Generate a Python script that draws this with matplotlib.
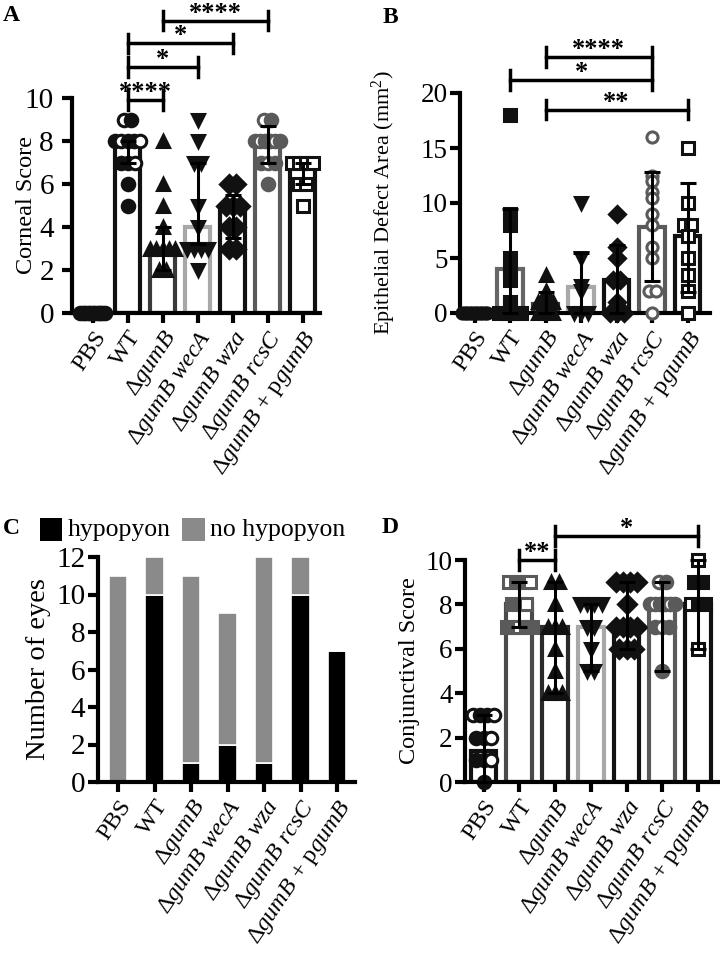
import matplotlib
matplotlib.use('Agg')
import matplotlib.pyplot as plt
from matplotlib.patches import Rectangle
import numpy as np

plt.rcParams['font.family'] = ['Liberation Serif', 'DejaVu Serif']
plt.rcParams['mathtext.fontset'] = 'custom'
plt.rcParams['mathtext.rm'] = 'Liberation Serif'
plt.rcParams['mathtext.it'] = 'Liberation Serif:italic'
plt.rcParams['mathtext.bf'] = 'Liberation Serif:bold'

# ---------------- data ----------------
groups = ['PBS', 'WT', 'ΔgumB', 'ΔgumB wecA', 'ΔgumB wza', 'ΔgumB rcsC', 'ΔgumB + pgumB']
tick_labels = ['PBS', 'WT', 'Δ$\\mathit{gumB}$',
               'Δ$\\mathit{gumB}$ $\\mathit{wecA}$',
               'Δ$\\mathit{gumB}$ $\\mathit{wza}$',
               'Δ$\\mathit{gumB}$ $\\mathit{rcsC}$',
               'Δ$\\mathit{gumB}$ + p$\\mathit{gumB}$']

# Panel A: corneal score
corneal_pbs = [0] * 11
corneal_wt = [9, 9, 8, 8, 8, 8, 8, 7, 7, 7, 6, 5]
corneal_gumB = [8, 6, 5, 4, 3, 3, 3, 3, 3, 2, 2]
corneal_wecA = [9, 8, 7, 7, 5, 4, 3, 3, 3, 3, 2]
corneal_wza = [6, 6, 5, 5, 5, 4, 4, 3, 3]
corneal_rcsC = [9, 9, 8, 8, 8, 8, 8, 8, 7, 7, 7, 6]
corneal_pgumB = [7, 7, 7, 7, 6, 6, 5]
corneal_bar = [0, 8, 3, 4, 5, 8, 7]
corneal_err_lo = [0, 7, 2, 3.2, 3.5, 7, 6]
corneal_err_hi = [0, 8, 4, 7, 5.5, 8.7, 7]
corneal_sig = [(1, 2, 9.9, '****'), (1, 3, 11.45, '*'), (1, 4, 12.55, '*'), (2, 5, 13.6, '****')]

# Panel B: epithelial defect area
epi_pbs = [0] * 11
epi_wt = [18, 9, 8, 5, 4, 3, 1, 0.5, 0, 0, 0, 0]
epi_gumB = [3.5, 2, 1.5, 1, 1, 1, 0.5, 0.5, 0, 0, 0]
epi_wecA = [10, 5, 2.5, 2, 0, 0, 0]
epi_wza = [9, 6, 5, 3, 3, 1, 0, 0, 0]
epi_rcsC = [16, 12.5, 12, 11, 10.5, 9, 8, 6, 5, 2, 2, 0]
epi_pgumB = [15, 10, 8, 8, 7, 5, 3.5, 2, 0]
epi_bar = [0, 4, 0.8, 2.4, 3, 7.8, 7]
epi_err_lo = [0, 0, 0, 0, 0, 2.9, 1.9]
epi_err_hi = [0, 9.5, 1.9, 5.5, 6.2, 12.8, 11.8]
epi_sig = [(2, 5, 23.3, '****'), (1, 5, 21.2, '*'), (2, 6, 18.5, '**')]

# Panel C: hypopyon counts
hypopyon = [0, 10, 1, 2, 1, 10, 7]
no_hypopyon = [11, 2, 10, 7, 11, 2, 0]

# Panel D: conjunctival score
conj_pbs = [3, 3, 3, 3, 2, 2, 2, 1, 1, 1, 0]
conj_wt = [9, 9, 9, 9, 8, 8, 8, 7, 7, 7, 7, 7]
conj_gumB = [9, 9, 8, 7, 7, 7, 6, 5, 4, 4, 4]
conj_wecA = [8, 8, 8, 8, 7, 7, 6, 5, 5]
conj_wza = [9, 9, 9, 9, 8, 7, 7, 7, 7, 6, 6, 6]
conj_rcsC = [9, 9, 8, 8, 8, 8, 8, 8, 7, 7, 7, 5]
conj_pgumB = [10, 9, 9, 8, 8, 8, 6]
conj_bar = [1.4, 8, 7, 7, 7, 8, 8]
conj_err_lo = [0, 7, 4, 5, 6, 5, 6]
conj_err_hi = [3, 9, 9, 8, 9, 9, 10]
conj_sig = [(1, 2, 10.0, '**'), (2, 6, 11.1, '*')]

# ---------------- styles ----------------
BLK = '#111111'
DG = '#4a4a4a'
MG = '#5a5a5a'
LG = '#a8a8a8'

style_A = [('o', BLK, True), ('o', BLK, 'mix'), ('^', BLK, True), ('v', BLK, True),
           ('D', BLK, True), ('o', MG, 'mix'), ('s', BLK, False)]
edges_A = [BLK, BLK, '#3a3a3a', LG, BLK, MG, BLK]
style_B = [('o', BLK, True), ('s', BLK, True), ('^', BLK, True), ('v', BLK, True),
           ('D', BLK, True), ('o', MG, False), ('s', BLK, False)]
edges_B = [BLK, '#666666', '#3a3a3a', LG, BLK, MG, BLK]
style_D = [('o', BLK, 'mix'), ('s', MG, 'mix'), ('^', BLK, True), ('v', BLK, True),
           ('D', BLK, True), ('o', MG, 'mix'), ('s', BLK, 'mix')]
edges_D = [BLK, DG, '#2a2a2a', LG, BLK, MG, BLK]


def swarm(vals, step, maxw=0.7):
    vals = list(vals)
    xs = np.zeros(len(vals))
    uniq = {}
    for k, v in enumerate(vals):
        uniq.setdefault(v, []).append(k)
    for v, idx in uniq.items():
        n = len(idx)
        s = step if n <= 1 else min(step, maxw / (n - 1))
        for j, k in enumerate(idx):
            xs[k] = (j - (n - 1) / 2) * s
    return xs


def style_axes(ax, fs, pad):
    for s in ['top', 'right']:
        ax.spines[s].set_visible(False)
    for s in ['left', 'bottom']:
        ax.spines[s].set_linewidth(3)
    ax.tick_params(axis='y', direction='out', length=7, width=3, labelsize=fs, pad=pad)
    ax.tick_params(axis='x', direction='out', length=7, width=3, pad=3)


def dot_panel(ax, datas, bars, lo, hi, edges, styles, step, ms):
    for i, vals in enumerate(datas):
        ax.bar(i, bars[i], width=0.72, facecolor='white', edgecolor=edges[i],
               linewidth=3, zorder=2)
        mk, col, filled = styles[i]
        xs = swarm(vals, step)
        for j, (x, v) in enumerate(zip(xs, vals)):
            if filled == 'mix':
                f = (j % 3 != 0)
            else:
                f = filled
            ax.plot(i + x, v, marker=mk, ms=ms, mec=col, mfc=col if f else 'white',
                    mew=2.2, ls='none', zorder=3, clip_on=False)
        if hi[i] > lo[i]:
            ax.errorbar(i, bars[i], yerr=[[bars[i] - lo[i]], [hi[i] - bars[i]]],
                        fmt='none', ecolor='black', elinewidth=2.2, capsize=6,
                        capthick=2.2, zorder=4, clip_on=False)


def sig(ax, sigs, cap, fs):
    for a, b, y, txt in sigs:
        ax.plot([a, b], [y, y], color='black', lw=2.5, clip_on=False, zorder=5)
        for xx in (a, b):
            ax.plot([xx, xx], [y - cap, y + cap], color='black', lw=2.5,
                    clip_on=False, zorder=5)
        ax.annotate(txt, xy=((a + b) / 2, y), xytext=(0, 0.5), textcoords='offset points',
                    ha='center', va='baseline', fontsize=fs, fontweight='bold',
                    annotation_clip=False)


def xlabels(ax, fs=17.5):
    ax.set_xticks(range(7))
    ax.set_xticklabels(tick_labels, rotation=56, ha='right', rotation_mode='anchor',
                       fontsize=fs)


fig = plt.figure(figsize=(7.2, 9.6), dpi=100)
W, H = 720, 960


def add_ax(l, r, t, b):
    return fig.add_axes([l / W, 1 - b / H, (r - l) / W, (b - t) / H])


# ---------------- Panel A ----------------
axA = add_ax(72, 320, 98, 313)
dot_panel(axA, [corneal_pbs, corneal_wt, corneal_gumB, corneal_wecA, corneal_wza,
                corneal_rcsC, corneal_pgumB],
          corneal_bar, corneal_err_lo, corneal_err_hi, edges_A, style_A, 0.2, 9)
axA.set_xlim(-0.59, 6.5)
axA.set_ylim(0, 10)
axA.set_yticks([0, 2, 4, 6, 8, 10])
style_axes(axA, 21, 6)
xlabels(axA)
axA.set_ylabel('Corneal Score', fontsize=17.5)
axA.yaxis.set_label_coords((37 - 72) / 248, 0.5)
sig(axA, corneal_sig, 0.45, 19)

# ---------------- Panel B ----------------
axB = add_ax(460, 710, 93, 313)
dot_panel(axB, [epi_pbs, epi_wt, epi_gumB, epi_wecA, epi_wza, epi_rcsC, epi_pgumB],
          epi_bar, epi_err_lo, epi_err_hi, edges_B, style_B, 0.2, 8)
axB.set_xlim(-0.41, 6.63)
axB.set_ylim(0, 20)
axB.set_yticks([0, 5, 10, 15, 20])
style_axes(axB, 19.5, 2)
xlabels(axB)
axB.set_ylabel('Epithelial Defect Area (mm$^2$)', fontsize=16)
axB.yaxis.set_label_coords((398 - 460) / 250, 0.5)
sig(axB, epi_sig, 0.9, 19)

# ---------------- Panel C ----------------
axC = add_ax(98, 355, 557, 782)
x = np.arange(7)
axC.bar(x, hypopyon, width=0.5, color='black', edgecolor='white', linewidth=1.2, zorder=2)
axC.bar(x, no_hypopyon, bottom=hypopyon, width=0.5, color='#8a8a8a', edgecolor='white',
        linewidth=1.2, zorder=2)
axC.set_xlim(-0.55, 6.49)
axC.set_ylim(0, 12)
axC.set_yticks([0, 2, 4, 6, 8, 10, 12])
style_axes(axC, 21, 2)
xlabels(axC)
axC.set_ylabel('Number of eyes', fontsize=20.5)
axC.yaxis.set_label_coords((51 - 98) / 257, 0.5)
# legend
fig.patches.append(Rectangle((40 / W, 1 - 541 / H), 22 / W, 23 / H, transform=fig.transFigure,
                             facecolor='black', edgecolor='none'))
fig.text(68 / W, 1 - 530 / H, 'hypopyon', fontsize=18.5, va='center', ha='left')
fig.patches.append(Rectangle((182 / W, 1 - 541 / H), 23 / W, 23 / H, transform=fig.transFigure,
                             facecolor='#8a8a8a', edgecolor='none'))
fig.text(210 / W, 1 - 530 / H, 'no hypopyon', fontsize=18.5, va='center', ha='left')

# ---------------- Panel D ----------------
axD = add_ax(465, 718, 560, 782)
dot_panel(axD, [conj_pbs, conj_wt, conj_gumB, conj_wecA, conj_wza, conj_rcsC, conj_pgumB],
          conj_bar, conj_err_lo, conj_err_hi, edges_D, style_D, 0.2, 9)
axD.set_xlim(-0.52, 6.56)
axD.set_ylim(0, 10)
axD.set_yticks([0, 2, 4, 6, 8, 10])
style_axes(axD, 19.5, 2)
xlabels(axD)
axD.set_ylabel('Conjunctival Score', fontsize=17.5)
axD.yaxis.set_label_coords((420 - 465) / 253, 0.5)
sig(axD, conj_sig, 0.45, 19)

# panel letters
for lab, px, py in [('A', 3, 5), ('B', 383, 7), ('C', 3, 518), ('D', 382, 517)]:
    fig.text(px / W, 1 - py / H, lab, fontsize=17, fontweight='bold', ha='left', va='top')

fig.savefig('out.png', dpi=100)
